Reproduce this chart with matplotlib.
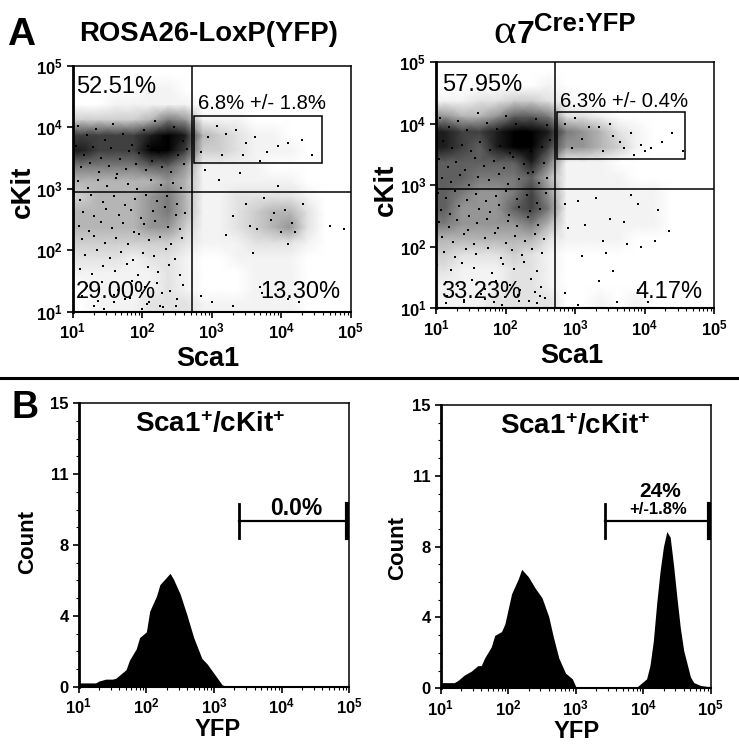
import numpy as np
import matplotlib
matplotlib.use("Agg")
import matplotlib.pyplot as plt
from matplotlib.lines import Line2D
from matplotlib.patches import Rectangle
from matplotlib.ticker import FixedLocator, NullFormatter

plt.rcParams['font.family'] = ['Liberation Sans', 'DejaVu Sans']
plt.rcParams['mathtext.fontset'] = 'custom'
plt.rcParams['mathtext.bf'] = 'Liberation Sans:bold'
plt.rcParams['mathtext.rm'] = 'Liberation Sans'

# density of the dots, read by eye, 0-9, rows from cKit 10^5 down to 10^1, columns Sca1 10^1 to 10^5
density_wt = [
    [0, 0, 0, 0, 0, 0, 0, 0, 0, 0, 0, 0, 0, 0, 0, 0],
    [0, 0, 0, 0, 1, 1, 0, 0, 0, 0, 0, 0, 0, 0, 0, 0],
    [0, 0, 1, 1, 1, 1, 1, 0, 0, 0, 0, 0, 0, 0, 0, 0],
    [3, 3, 3, 3, 4, 6, 5, 1, 1, 1, 0, 0, 0, 0, 0, 0],
    [8, 8, 8, 8, 9, 10, 9, 4, 3, 2, 1, 1, 0, 0, 0, 0],
    [9, 8, 8, 8, 10, 10, 8, 3, 3, 2, 1, 1, 1, 0, 0, 0],
    [6, 6, 6, 6, 7, 7, 5, 1, 1, 1, 1, 0, 0, 0, 0, 0],
    [4, 4, 4, 4, 4, 5, 4, 1, 1, 1, 1, 1, 1, 0, 0, 0],
    [3, 4, 4, 4, 5, 6, 4, 1, 1, 2, 2, 2, 2, 1, 0, 0],
    [4, 4, 4, 4, 5, 6, 4, 1, 1, 2, 3, 4, 4, 2, 0, 0],
    [4, 4, 4, 4, 5, 5, 3, 1, 1, 2, 3, 4, 5, 2, 0, 0],
    [3, 3, 3, 3, 3, 3, 2, 1, 1, 1, 2, 2, 2, 1, 0, 0],
    [2, 2, 2, 1, 2, 2, 1, 0, 0, 1, 1, 1, 1, 0, 0, 0],
    [1, 1, 1, 1, 1, 2, 1, 0, 0, 0, 1, 1, 1, 0, 0, 0],
    [0, 1, 1, 1, 1, 2, 1, 0, 0, 0, 1, 1, 1, 0, 0, 0],
    [0, 1, 1, 1, 2, 2, 2, 1, 1, 1, 1, 1, 1, 0, 0, 0],
]
density_cre = [
    [0, 0, 0, 0, 0, 0, 0, 0, 0, 0, 0, 0, 0, 0, 0, 0],
    [0, 0, 0, 0, 0, 0, 1, 0, 0, 0, 0, 0, 0, 0, 0, 0],
    [1, 1, 2, 2, 3, 3, 2, 1, 0, 0, 0, 0, 0, 0, 0, 0],
    [5, 4, 4, 5, 7, 7, 6, 2, 2, 1, 0, 0, 0, 0, 0, 0],
    [9, 8, 8, 9, 10, 10, 9, 6, 5, 4, 2, 1, 0, 0, 0, 0],
    [9, 8, 7, 9, 10, 10, 8, 5, 5, 4, 3, 1, 0, 0, 0, 0],
    [7, 7, 7, 7, 7, 9, 6, 1, 1, 1, 0, 0, 0, 0, 0, 0],
    [7, 7, 6, 6, 6, 7, 4, 1, 1, 1, 1, 0, 0, 0, 0, 0],
    [7, 6, 5, 5, 6, 8, 5, 1, 1, 1, 1, 1, 1, 0, 0, 0],
    [7, 5, 5, 5, 7, 8, 6, 1, 1, 1, 1, 1, 1, 0, 0, 0],
    [6, 5, 5, 5, 5, 6, 4, 1, 1, 1, 1, 1, 1, 0, 0, 0],
    [4, 4, 4, 4, 4, 4, 2, 1, 1, 1, 1, 0, 0, 0, 0, 0],
    [3, 2, 2, 2, 3, 2, 1, 0, 0, 0, 0, 0, 0, 0, 0, 0],
    [2, 1, 1, 1, 2, 2, 1, 0, 0, 0, 0, 0, 0, 0, 0, 0],
    [1, 1, 1, 1, 2, 2, 1, 0, 0, 0, 0, 0, 0, 0, 0, 0],
    [1, 1, 1, 2, 2, 2, 2, 0, 0, 1, 0, 1, 0, 0, 0, 0],
]

# single dots that stand out, log10 of Sca1 and cKit
wt_dot_x = [3.07, 3.2, 3.35, 3.5, 3.62, 3.8, 3.95, 4.1, 4.3, 4.45, 2.95, 2.85, 3.15, 3.45, 3.7,
            3.5, 3.75, 3.9, 4.05, 4.15, 4.2, 4.32, 3.3, 3.55, 3.65, 3.85, 4.0, 4.1, 3.2, 3.6,
            2.85, 3.0, 3.3, 3.7, 3.72, 3.95, 4.1, 4.25, 1.3, 1.45, 1.75, 2.0, 2.1, 2.25, 2.5,
            2.3, 2.0, 1.6, 4.7, 4.9, 3.1, 3.4, 3.95, 2.9, 4.55]
wt_dot_y = [4.02, 3.9, 3.95, 3.75, 3.85, 3.6, 3.7, 3.75, 3.8, 3.55, 3.85, 3.6, 3.55, 3.55, 3.45,
            2.75, 2.85, 2.6, 2.65, 2.45, 2.3, 2.75, 2.55, 2.4, 2.35, 2.5, 2.3, 2.1, 2.25, 1.95,
            1.25, 1.15, 1.1, 1.4, 1.3, 1.35, 1.2, 1.15, 1.1, 1.05, 1.2, 1.05, 1.15, 1.1, 1.2,
            1.08, 1.3, 1.15, 2.4, 2.35, 3.15, 3.25, 3.05, 3.3, 4.4]
wt_left_x = [1.08, 1.2, 1.33, 1.47, 1.58, 1.72, 1.86, 2.02, 2.18, 2.31, 2.46, 2.58,
             1.05, 1.16, 1.29, 1.41, 1.55, 1.68, 1.81, 1.95, 2.08, 2.24, 2.38, 2.52, 2.65,
             1.12, 1.25, 1.38, 1.52, 1.64, 1.77, 1.91, 2.05, 2.14, 2.28, 2.42, 2.6,
             1.07, 1.22, 1.36, 1.5, 1.62, 1.79, 1.93, 2.12, 2.27, 2.44, 2.56,
             1.1, 1.27, 1.43, 1.6, 1.75, 1.9, 2.06, 2.21, 2.35, 2.5,
             1.15, 1.3, 1.48, 1.66, 1.84, 1.98, 2.16, 2.33, 2.48, 2.62,
             1.09, 1.24, 1.4, 1.57, 1.73, 1.88, 2.03, 2.19, 2.37, 2.54,
             1.14, 1.31, 1.46, 1.63, 1.8, 1.96, 2.1, 2.26, 2.41, 2.57,
             1.18, 1.35, 1.53, 1.7, 1.87, 2.01, 2.17, 2.34, 2.47,
             1.11, 1.28, 1.44, 1.61, 1.78, 1.94, 2.09, 2.23, 2.39, 2.55,
             1.2, 1.42, 1.65, 1.85, 2.04, 2.22, 2.4, 2.58,
             1.13, 1.37, 1.59, 1.83, 2.07, 2.29, 2.49]
wt_left_y = [4.02, 3.88, 3.98, 3.8, 4.05, 3.9, 3.72, 3.95, 4.1, 3.85, 4.0, 3.78,
             3.7, 3.55, 3.68, 3.5, 3.66, 3.48, 3.62, 3.58, 3.7, 3.6, 3.72, 3.55, 3.65,
             3.35, 3.42, 3.28, 3.38, 3.24, 3.32, 3.4, 3.3, 3.45, 3.36, 3.28, 3.4,
             3.12, 3.02, 3.15, 3.05, 3.18, 3.08, 3.0, 3.14, 3.06, 3.1, 3.02,
             2.82, 2.9, 2.78, 2.88, 2.74, 2.84, 2.9, 2.8, 2.88, 2.76,
             2.62, 2.55, 2.68, 2.58, 2.66, 2.52, 2.64, 2.7, 2.58, 2.6,
             2.4, 2.32, 2.46, 2.36, 2.44, 2.3, 2.42, 2.48, 2.38, 2.34,
             2.18, 2.24, 2.12, 2.2, 2.1, 2.26, 2.16, 2.22, 2.1, 2.2,
             1.92, 2.0, 1.88, 1.98, 1.84, 1.95, 1.9, 2.02, 1.86,
             1.7, 1.62, 1.74, 1.66, 1.78, 1.6, 1.72, 1.64, 1.76, 1.6,
             1.42, 1.48, 1.36, 1.5, 1.4, 1.46, 1.34, 1.44,
             1.25, 1.18, 1.28, 1.22, 1.12, 1.3, 1.1]
cre_dot_x = [2.85, 3.0, 3.2, 3.35, 3.5, 3.65, 3.8, 3.95, 4.1, 4.25, 4.4, 4.55, 2.95, 3.1, 3.4,
             3.55, 3.7, 3.85, 4.0, 2.85, 3.05, 3.3, 3.5, 3.9, 4.2, 2.9, 3.15, 3.4, 3.7, 3.95,
             3.1, 3.45, 3.55, 3.75, 4.15, 1.15, 1.4, 1.7, 1.95, 2.2, 2.45, 2.5, 3.35, 3.6, 3.9,
             3.05, 2.85, 4.05, 3.8, 4.35]
cre_dot_y = [4.0, 4.1, 3.95, 3.95, 4.0, 3.7, 3.85, 3.65, 3.6, 3.7, 3.85, 3.55, 3.6, 3.75, 3.55,
             3.8, 3.6, 3.5, 3.55, 2.7, 2.75, 2.8, 2.45, 2.7, 2.6, 2.3, 2.35, 2.1, 2.4, 2.0,
             1.85, 1.9, 1.6, 2.05, 2.1, 1.08, 1.1, 1.15, 1.05, 1.12, 1.08, 1.2, 1.45, 1.1, 1.3,
             1.05, 1.25, 1.1, 2.85, 2.25]
cre_left_x = [1.06, 1.19, 1.31, 1.45, 1.6, 1.74, 1.88, 2.0, 2.15, 2.3, 2.44, 2.6,
              1.1, 1.23, 1.37, 1.5, 1.63, 1.78, 1.92, 2.07, 2.22, 2.36, 2.52, 2.64,
              1.04, 1.17, 1.29, 1.42, 1.56, 1.69, 1.83, 1.98, 2.11, 2.26, 2.4, 2.55,
              1.08, 1.21, 1.34, 1.48, 1.61, 1.76, 1.9, 2.04, 2.19, 2.33, 2.48, 2.6,
              1.03, 1.15, 1.28, 1.44, 1.58, 1.72, 1.86, 2.01, 2.16, 2.31, 2.46, 2.58,
              1.07, 1.2, 1.33, 1.47, 1.62, 1.77, 1.91, 2.05, 2.2, 2.35, 2.5,
              1.05, 1.18, 1.3, 1.46, 1.59, 1.73, 1.89, 2.03, 2.17, 2.32, 2.47,
              1.09, 1.25, 1.4, 1.55, 1.7, 1.85, 2.0, 2.13, 2.28, 2.42, 2.56,
              1.12, 1.27, 1.43, 1.57, 1.75, 1.93, 2.09, 2.24, 2.38, 2.53,
              1.02, 1.22, 1.38, 1.54, 1.8, 1.97, 2.12, 2.27, 2.45,
              1.14, 1.32, 1.52, 1.71, 1.87, 2.06, 2.21, 2.37, 2.51,
              1.16, 1.41, 1.65, 1.84, 1.99, 2.18, 2.34, 2.43, 2.57]
cre_left_y = [4.1, 3.95, 4.05, 3.9, 4.18, 4.02, 3.92, 4.12, 4.0, 3.88, 4.08, 3.98,
              3.72, 3.6, 3.66, 3.55, 3.7, 3.58, 3.64, 3.52, 3.68, 3.56, 3.62, 3.74,
              3.42, 3.3, 3.38, 3.25, 3.44, 3.32, 3.4, 3.28, 3.46, 3.34, 3.22, 3.36,
              3.12, 3.05, 3.16, 3.0, 3.14, 3.08, 3.18, 3.02, 3.1, 3.2, 3.04, 3.12,
              2.88, 2.8, 2.9, 2.76, 2.86, 2.74, 2.82, 2.9, 2.78, 2.84, 2.72, 2.88,
              2.6, 2.54, 2.66, 2.5, 2.62, 2.56, 2.68, 2.52, 2.64, 2.58, 2.62,
              2.4, 2.32, 2.44, 2.28, 2.38, 2.46, 2.3, 2.42, 2.34, 2.48, 2.36,
              2.16, 2.08, 2.2, 2.04, 2.14, 2.22, 2.06, 2.18, 2.1, 2.2, 2.12,
              1.92, 1.84, 1.96, 1.88, 1.98, 1.82, 1.94, 1.86, 1.97, 1.9,
              1.7, 1.62, 1.74, 1.66, 1.58, 1.72, 1.64, 1.76, 1.6,
              1.42, 1.36, 1.46, 1.32, 1.44, 1.38, 1.3, 1.48, 1.34,
              1.2, 1.14, 1.24, 1.1, 1.18, 1.22, 1.12, 1.26, 1.16]

# histograms, log10 of YFP and count
hist_wt_x = [1.0, 1.25, 1.3, 1.4, 1.5, 1.55, 1.6, 1.7, 1.75, 1.85, 1.9, 2.0, 2.05, 2.15, 2.2, 2.3,
             2.35, 2.4, 2.5, 2.6, 2.7, 2.82, 2.9, 3.0, 3.06, 3.12, 3.2, 5.0]
hist_wt_y = [0.2, 0.2, 0.3, 0.4, 0.4, 0.45, 0.6, 0.9, 1.4, 2.0, 2.6, 2.9, 4.0, 4.8, 5.4, 5.8,
             6.0, 5.7, 4.9, 3.8, 2.6, 1.5, 1.2, 0.7, 0.4, 0.1, 0.0, 0.0]
hist_cre_x = [1.0, 1.2, 1.25, 1.35, 1.45, 1.55, 1.6, 1.65, 1.75, 1.8, 1.9, 1.95, 2.0, 2.05, 2.15, 2.2,
              2.3, 2.4, 2.5, 2.6, 2.67, 2.75, 2.85, 2.95, 3.0, 3.1, 3.9, 3.95, 4.05, 4.1, 4.15,
              4.2, 4.25, 4.3, 4.35, 4.4, 4.45, 4.5, 4.55, 4.6, 4.7, 4.75, 4.85, 4.95, 5.0]
hist_cre_y = [0.3, 0.3, 0.4, 0.7, 0.9, 1.2, 1.2, 1.6, 2.2, 2.8, 3.0, 3.4, 4.2, 5.0, 5.8, 6.3,
              5.9, 5.3, 4.8, 3.8, 2.7, 1.6, 0.8, 0.5, 0.1, 0.05, 0.05, 0.2, 0.5, 1.2, 2.5,
              4.5, 6.2, 7.5, 8.3, 8.0, 6.5, 4.8, 3.2, 2.0, 0.6, 0.3, 0.15, 0.1, 0.1]

count_ticks = [0, 3.75, 7.5, 11.25, 15]
count_labels = ['0', '4', '8', '11', '15']
decades = [10, 100, 1000, 10000, 100000]
decade_labels = [r'$\mathbf{10^{1}}$', r'$\mathbf{10^{2}}$', r'$\mathbf{10^{3}}$', r'$\mathbf{10^{4}}$', r'$\mathbf{10^{5}}$']

W, H = 739, 746
fig = plt.figure(figsize=(W / 100, H / 100), dpi=100, facecolor='white')


def make_axes(left, right, top, bottom):
    ax = fig.add_axes([left / W, 1 - bottom / H, (right - left) / W, (bottom - top) / H])
    ax.set_xscale('log')
    ax.set_xlim(10, 1e5)
    ax.set_xticks(decades)
    ax.set_xticklabels(decade_labels, fontsize=12)
    ax.xaxis.set_minor_formatter(NullFormatter())
    ax.tick_params(which='major', length=4, width=1.2, pad=3)
    ax.tick_params(which='minor', length=2.5, width=0.8)
    for side in ax.spines:
        ax.spines[side].set_linewidth(1.1)
    ax.spines['left'].set_linewidth(2)
    ax.spines['bottom'].set_linewidth(1.5)
    return ax


def put(x, y, s, **kw):
    kw.setdefault('ha', 'center')
    kw.setdefault('va', 'baseline')
    fig.text(x / W, 1 - y / H, s, **kw)


def dot_plot(box, density, dot_x, dot_y, left_x, left_y):
    ax = make_axes(*box)
    ax.set_yscale('log')
    ax.set_ylim(10, 1e5)
    ax.set_yticks(decades)
    ax.set_yticklabels(decade_labels, fontsize=12)
    ax.yaxis.set_minor_locator(FixedLocator([]))
    # repeat the outer cells so the shading reaches the frame
    grid = np.pad(np.array(density, dtype=float)[::-1], 1, mode='edge')
    centers = 10 ** np.concatenate([[1.0], 1.125 + 0.25 * np.arange(16), [5.0]])
    ax.pcolormesh(centers, centers, grid, cmap='Greys', vmin=0, vmax=10, shading='gouraud', rasterized=True)
    ax.scatter(10 ** np.array(dot_x), 10 ** np.array(dot_y), s=3, c='black', marker='s', linewidths=0)
    ax.scatter(10 ** np.array(left_x), 10 ** np.array(left_y), s=3, c='black', marker='s', linewidths=0)
    ax.axvline(10 ** 2.71, color='black', lw=1.1)
    ax.axhline(10 ** 2.945, color='black', lw=1.1)
    ax.add_patch(Rectangle((10 ** 2.74, 10 ** 3.42), 10 ** 4.58 - 10 ** 2.74, 10 ** 4.19 - 10 ** 3.42,
                           fill=False, ec='black', lw=1.1))
    return ax


def hist_plot(box, hist_x, hist_y, gate_x0, gate_x1, gate_y):
    ax = make_axes(*box)
    ax.set_ylim(0, 15)
    ax.set_yticks(count_ticks)
    ax.set_yticklabels(count_labels, fontsize=12, fontweight='bold')
    ax.yaxis.set_minor_locator(FixedLocator(np.arange(0, 15.01, 0.9375)))
    ax.fill_between(10 ** np.array(hist_x), hist_y, 0, color='black', lw=0)
    ax.plot([10 ** gate_x0, 10 ** gate_x1], [gate_y, gate_y], color='black', lw=1.6, clip_on=False)
    ax.plot([10 ** gate_x0] * 2, [gate_y - 0.9, gate_y + 0.9], color='black', lw=2, clip_on=False)
    ax.plot([10 ** gate_x1] * 2, [gate_y - 0.9, gate_y + 0.9], color='black', lw=3, clip_on=False)
    return ax


dot_plot((72.7, 350.7, 66, 311.7), density_wt, wt_dot_x, wt_dot_y, wt_left_x, wt_left_y)
dot_plot((436, 714, 62.3, 308.3), density_cre, cre_dot_x, cre_dot_y, cre_left_x, cre_left_y)
hist_plot((78.7, 349.3, 403.3, 686.7), hist_wt_x, hist_wt_y, 3.37, 4.96, 8.78)
hist_plot((440.7, 710.7, 405, 688.3), hist_cre_x, hist_cre_y, 3.44, 4.975, 8.87)

# panel letters and titles
put(21, 45, 'A', fontsize=28, fontweight='bold')
put(25, 418, 'B', fontsize=27, fontweight='bold')
put(209, 41, 'ROSA26-LoxP(YFP)', fontsize=19.8, fontweight='bold')
put(505, 43, 'α', fontsize=31, family=['Liberation Serif', 'DejaVu Serif'])
put(525, 43, '7', fontsize=23, fontweight='bold')
put(585, 31, 'Cre:YFP', fontsize=18.5, fontweight='bold')

# axis names
put(207.5, 366, 'Sca1', fontsize=19.5, fontweight='bold')
put(571.7, 362.7, 'Sca1', fontsize=19.5, fontweight='bold')
put(23, 192, 'cKit', fontsize=20, fontweight='bold', rotation=90, va='center')
put(386, 190, 'cKit', fontsize=20, fontweight='bold', rotation=90, va='center')
put(28, 542, 'Count', fontsize=16, fontweight='bold', rotation=90, va='center')
put(398, 548, 'Count', fontsize=16, fontweight='bold', rotation=90, va='center')
put(217.5, 736, 'YFP', fontsize=17, fontweight='bold')
put(576.7, 738, 'YFP', fontsize=17, fontweight='bold')

# quadrant numbers
put(116, 93, '52.51%', fontsize=17)
put(116, 298, '29.00%', fontsize=17)
put(300, 298, '13.30%', fontsize=17)
put(262, 109, '6.8% +/- 1.8%', fontsize=14.6)
put(482, 91, '57.95%', fontsize=17)
put(481, 298, '33.23%', fontsize=17)
put(669, 298, '4.17%', fontsize=17)
put(624, 107, '6.3% +/- 0.4%', fontsize=14.6)

# histogram titles and gates
put(210, 432, r'$\mathbf{Sca1^{+}/cKit^{+}}$', fontsize=20)
put(575, 434, r'$\mathbf{Sca1^{+}/cKit^{+}}$', fontsize=20)
put(296, 515, '0.0%', fontsize=16.5, fontweight='bold')
put(660, 497, '24%', fontsize=15, fontweight='bold')
put(658, 514, '+/-1.8%', fontsize=12, fontweight='bold')

# line between the two rows
fig.add_artist(Line2D([0, 1], [1 - 378 / H, 1 - 378 / H], color='black', lw=2.2))

fig.savefig('out.png', dpi=100)
